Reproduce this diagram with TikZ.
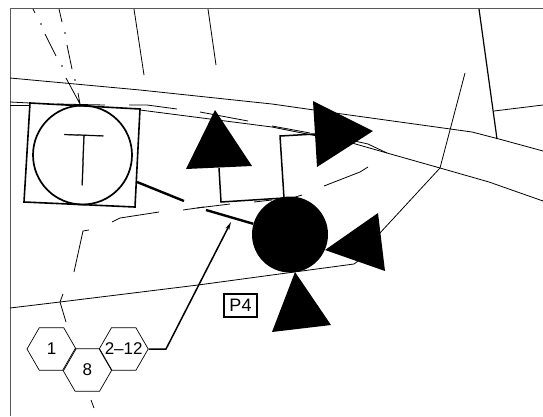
\documentclass[tikz,border=0pt]{standalone}
\usepackage{fontspec}
\setmainfont{Liberation Sans}
\newfontfamily\thinfont[BoldFont=*,BoldFeatures={FakeBold=0.5}]{Lato Thin}
\usetikzlibrary{arrows.meta,shapes.geometric}
\tikzset{
    thinline/.style={line width=0.8pt},
    wire/.style={line width=1.5pt},
    hexnode/.style={draw,regular polygon,regular polygon sides=6,minimum size=49pt,inner sep=0pt,line width=0.7pt,font=\fontsize{17}{17}\selectfont}
}
\begin{document}
\begin{tikzpicture}[x=1pt,y=-1pt]
        \useasboundingbox (0,0) rectangle (543,416);

        % Frame
        \draw[gray!70!black,line width=0.9pt] (10,416) -- (10,8) -- (543,8);

        % Roads
        \draw[thinline] (10,78) -- (140,90) -- (272,104) -- (335,113) -- (472,132) -- (499,139) -- (543,151);
        \draw[thinline] (140,110) -- (272,127) -- (352,143) -- (387,153) -- (440,168) -- (489,182) -- (543,201);
        \draw[thinline] (10,102) -- (30,103);
        \draw[thinline] (10,105) -- (30,105);
        \draw[thinline] (10,308) -- (60,302) -- (198,285) -- (272,275) -- (354,264) -- (358,261);

        % Broken edge
        \draw[thinline] (57,104) -- (105,105);
        \draw[thinline] (129,105) -- (147,105) -- (177,109);
        \draw[thinline] (200,112) -- (248,121);
        \draw[thinline] (272,126) -- (310,133);
        \draw[thinline] (350,140) -- (368,144) -- (387,153);
        \draw[thinline] (324,186) -- (360,172) -- (368,167);
        \draw[thinline] (292,198) -- (302,195);
        \draw[thinline] (254,202) -- (272,200);
        \draw[thinline] (197,208) -- (230,204);
        \draw[thinline] (183,210) -- (204,207);
        \draw[thinline] (112,222) -- (120,218) -- (159,212);
        \draw[thinline] (89,230) -- (83,231) -- (74,272);
        \draw[thinline] (63,294) -- (60,302) -- (66,322);
        \draw[thinline] (91,400) -- (94,408);

        % Dash-dot centre lines
        \draw[thinline] (33,9) -- (35,13);
        \draw[thinline] (45,34) -- (56,56);
        \draw[thinline] (59,9) -- (62,22);
        \draw[thinline] (67,45) -- (72,69);
        \draw[thinline] (66,78) -- (80,104) -- (78,93);
        \fill (41,24) circle (0.8) (65,33) circle (0.8) (62,66) circle (0.8) (75,80) circle (0.8);

        % Plot lines
        \draw[thinline] (134,9) -- (144,75);
        \draw[thinline] (208,9) -- (216,65);
        \draw[line width=1.2pt] (479,9) -- (497,139);
        \draw[thinline] (494,111) -- (543,105);
        \draw[thinline] (465,73) -- (450,130) -- (440,168) -- (380,233);

        % Controller
        \draw[line width=1.6pt] (30,103) -- (140,109) -- (135,207) -- (24,202) -- cycle;
        \node[draw,circle,line width=1.7pt,minimum size=99pt,inner sep=0pt] (ctrl) at (82.5,155) {};
        \node[rotate=-2,inner sep=0pt] (ctrllabel) at (83,160) {\thinfont\bfseries\fontsize{72}{72}\selectfont T};

        % Signal
        \node[circle,fill=black,minimum size=76pt,inner sep=0pt] (pole) at (290,234.5) {};
        \fill (215,110) -- (186,169) -- (252,166) -- cycle;
        \fill (313,101) -- (373,131) -- (317,167) -- cycle;
        \fill (378,213) -- (385,271) -- (325,250) -- cycle;
        \fill (295,272) -- (331,325) -- (272,332) -- cycle;

        \coordinate (heada) at (219,168);
        \coordinate (headb) at (315,134);
        \coordinate (polea) at (284,198);
        \draw[wire] (heada) -- (221,202) -- (polea);
        \draw[wire] (headb) -- (280,136) -- (polea);

        % Detector
        \coordinate (ctrlout) at (137,182);
        \coordinate (ctrlend) at (184,201);
        \coordinate (loopstart) at (206,210);
        \coordinate (tip) at (231,222);
        \draw[line width=2.4pt] (ctrlout) -- (ctrlend);
        \draw[line width=2.4pt] (loopstart) -- (pole);

        % Phase hexagons
        \node[hexnode] (one) at (51.5,349) {1};
        \node[hexnode] (eight) at (87.3,370) {8};
        \node[hexnode] (rest) at (123.7,349) {\makebox[0pt]{2--12}};
        \draw[wire,-{Stealth[length=8pt,width=4pt]}] (rest) -- (166,349) -- (tip);

        \node[draw,line width=1.1pt,minimum width=33pt,minimum height=23pt,inner sep=0pt,font=\fontsize{18}{18}\selectfont] (phase) at (240.5,305.5) {P4};
    \end{tikzpicture}
\end{document}
